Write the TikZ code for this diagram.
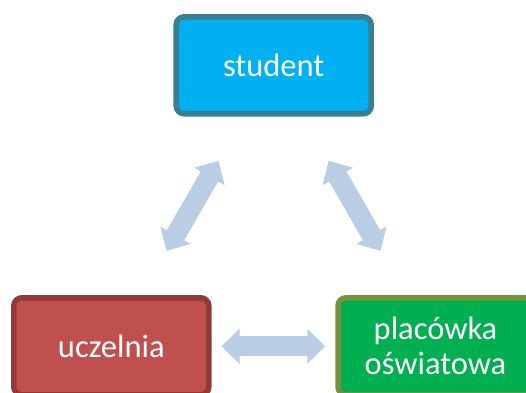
\documentclass[tikz,border=0pt]{standalone}
\usepackage{fontspec}
\setmainfont{Carlito}
\usetikzlibrary{arrows.meta,calc}

\definecolor{studentfill}{HTML}{00B0F0}
\definecolor{studentline}{HTML}{3A7E92}
\definecolor{uczelniafill}{HTML}{C0504D}
\definecolor{uczelnialine}{HTML}{923A38}
\definecolor{placowkafill}{HTML}{00B050}
\definecolor{placowkaline}{HTML}{76923C}
\definecolor{linkblue}{HTML}{B9CDE5}

\begin{document}
\begin{tikzpicture}[x=1pt,y=1pt,
    box/.style={draw, line width=5.5pt, rounded corners=8pt,
      minimum width=195pt, minimum height=97pt, text=white,
      font=\fontsize{32.5}{35}\selectfont, align=center},
    link/.style={draw=linkblue, line width=20pt,
      {Triangle[length=18pt,width=34pt]}-{Triangle[length=18pt,width=34pt]}}]

  \clip (0,0) rectangle (526,392);

  \node[box, fill=studentfill, draw=studentline] (student) at (273.7,326.7) {student};
  \node[box, fill=uczelniafill, draw=uczelnialine] (uczelnia) at (111.3,45.7) {uczelnia};
  \node[box, fill=placowkafill, draw=placowkaline] (placowka) at (435.5,45.7) {placówka\\oświatowa};

  % fat two-way arrows between the boxes
  \foreach \a/\b in {student/uczelnia, student/placowka, uczelnia/placowka}{
    \draw[link] ($(\a)!.34!(\b)$) -- ($(\a)!.66!(\b)$);
  }

\end{tikzpicture}
\end{document}
